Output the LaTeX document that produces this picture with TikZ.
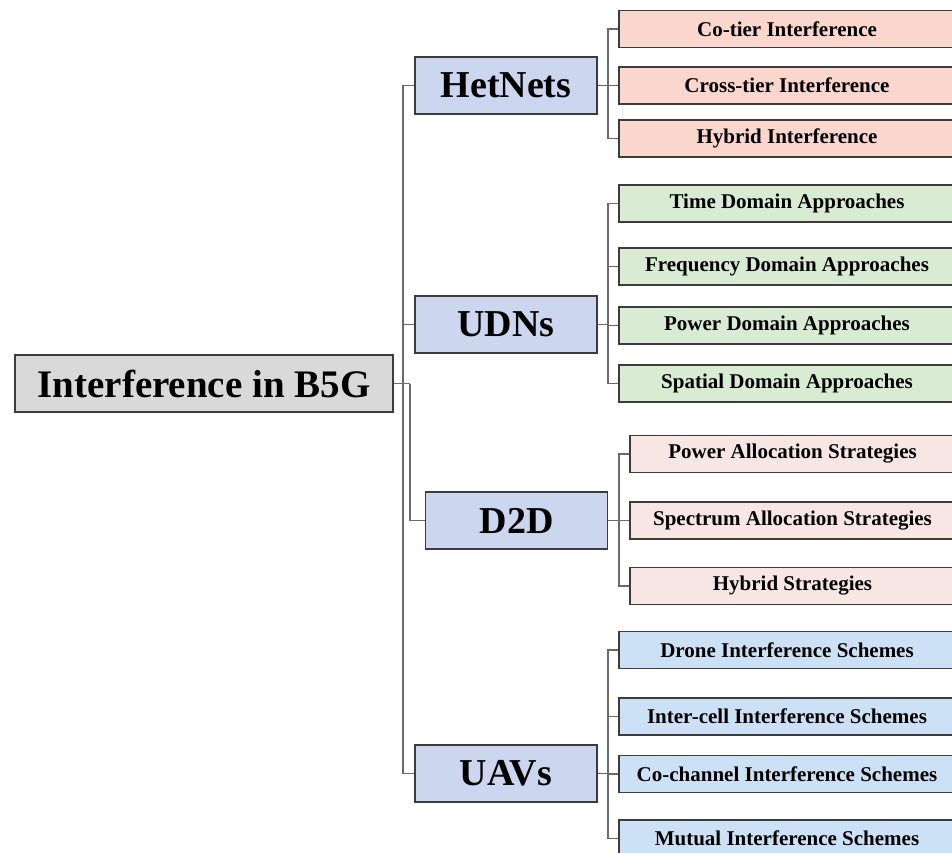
\documentclass[tikz,border=0pt]{standalone}
\usepackage{fontspec}
\setmainfont{Liberation Serif}
\definecolor{rootfill}{HTML}{D9D9D9}
\definecolor{midfill}{HTML}{CDD6EF}
\definecolor{hetfill}{HTML}{FAD6CD}
\definecolor{udnfill}{HTML}{D9EBD3}
\definecolor{d2dfill}{HTML}{F8E6E4}
\definecolor{uavfill}{HTML}{CCE1F5}
\definecolor{bordercol}{HTML}{3C3C3C}
\definecolor{linkcol}{HTML}{6A6A6A}
\tikzset{
  box/.style={draw=bordercol, line width=1.2pt, rectangle, inner sep=0pt, font=\bfseries},
  rootbox/.style={box, fill=rootfill, minimum width=378pt, minimum height=57pt, font=\fontsize{39}{44}\selectfont\bfseries},
  midbox/.style={box, fill=midfill, minimum width=182pt, minimum height=57pt, font=\fontsize{38}{43}\selectfont\bfseries},
  leafbox/.style={box, minimum width=336pt, minimum height=37pt, font=\fontsize{21}{24}\selectfont\bfseries},
  dleafbox/.style={box, fill=d2dfill, minimum width=325pt, minimum height=37pt, font=\fontsize{21}{24}\selectfont\bfseries},
  link/.style={draw=linkcol, line width=1.3pt}
}
\begin{document}
\begin{tikzpicture}[x=1pt,y=-1pt]
\useasboundingbox[fill=white] (0,0) rectangle (952,852);
% root
\node[rootbox] (root) at (204,383.5) {Interference in B5G};
% level 1
\node[midbox] (het) at (506,85.5) {HetNets};
\node[midbox] (udn) at (506,324.5) {UDNs};
\node[midbox] (d2d) at (516.5,520.5) {D2D};
\node[midbox] (uav) at (506,773.5) {UAVs};
% HetNets leaves
\node[leafbox, fill=hetfill] (h1) at (787,29) {Co-tier Interference};
\node[leafbox, fill=hetfill] (h2) at (787,85.5) {Cross-tier Interference};
\node[leafbox, fill=hetfill] (h3) at (787,138.5) {Hybrid Interference};
% UDNs leaves
\node[leafbox, fill=udnfill] (u1) at (787,203.5) {Time Domain Approaches};
\node[leafbox, fill=udnfill] (u2) at (787,266.5) {Frequency Domain Approaches};
\node[leafbox, fill=udnfill] (u3) at (787,325.5) {Power Domain Approaches};
\node[leafbox, fill=udnfill] (u4) at (787,383.5) {Spatial Domain Approaches};
% D2D leaves
\node[dleafbox] (d1) at (792.5,454) {Power Allocation Strategies};
\node[dleafbox] (d2) at (792.5,520.5) {Spectrum Allocation Strategies};
\node[dleafbox] (d3) at (792.5,586) {Hybrid Strategies};
% UAV leaves
\node[leafbox, fill=uavfill] (a1) at (787,650) {Drone Interference Schemes};
\node[leafbox, fill=uavfill] (a2) at (787,716.5) {Inter-cell Interference Schemes};
\node[leafbox, fill=uavfill] (a3) at (787,774) {Co-channel Interference Schemes};
\node[leafbox, fill=uavfill] (a4) at (787,838.5) {Mutual Interference Schemes};
% junction coordinates
\coordinate (trunk) at (403,383.5);
\coordinate (dtrunk) at (410,383.5);
\coordinate (hj) at (608,85.5);
\coordinate (uj) at (608,324.5);
\coordinate (dj) at (619,520.5);
\coordinate (aj) at (608,773.5);
% root connectors
\draw[link] (root.east) -- (dtrunk);
\draw[link] (trunk) |- (het.west);
\draw[link] (trunk) |- (udn.west);
\draw[link] (trunk) |- (uav.west);
\draw[link] (dtrunk) |- (d2d.west);
% HetNets connectors
\draw[link] (het.east) -- (hj);
\foreach \n in {h1,h2,h3} \draw[link] (hj) |- (\n.west);
% UDNs connectors
\draw[link] (udn.east) -- (uj);
\foreach \n in {u1,u2,u3,u4} \draw[link] (uj) |- (\n.west);
% D2D connectors
\draw[link] (d2d.east) -- (dj);
\foreach \n in {d1,d2,d3} \draw[link] (dj) |- (\n.west);
% UAV connectors
\draw[link] (uav.east) -- (aj);
\foreach \n in {a1,a2,a3,a4} \draw[link] (aj) |- (\n.west);
\end{tikzpicture}
\end{document}
